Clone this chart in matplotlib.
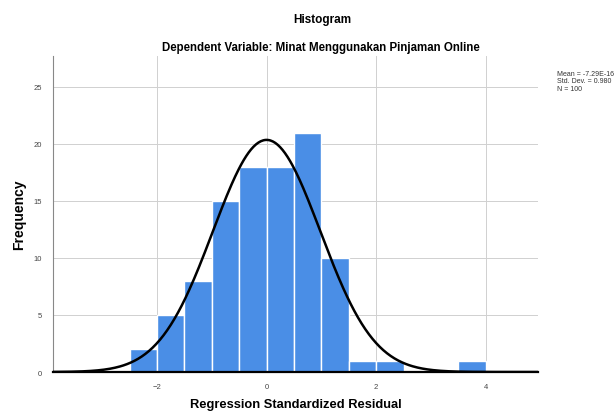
import numpy as np
import matplotlib.pyplot as plt

plt.rcParams['font.family'] = ['Liberation Sans', 'DejaVu Sans']

# histogram of standardized residuals (bin width 0.5)
bin_left = [-2.5, -2.0, -1.5, -1.0, -0.5, 0.0, 0.5, 1.0, 1.5, 2.0, 3.5]
counts = [2, 5, 8, 15, 18, 18, 21, 10, 1, 1, 1]
bin_width = 0.5
mean = 0.0
std_dev = 0.980
n = 100
x_ticks = [-2, 0, 2, 4]
y_ticks = [0, 5, 10, 15, 20, 25]

fig = plt.figure(figsize=(6.16, 4.14), dpi=100)
ax = fig.add_axes([0.086, 0.099, 0.787, 0.763])

ax.bar(bin_left, counts, width=bin_width, align='edge', color='#4a8ee6',
       edgecolor='white', linewidth=1.0, zorder=2)

xs = np.linspace(-3.9, 4.95, 400)
pdf = n * bin_width / (std_dev * np.sqrt(2 * np.pi)) * np.exp(-0.5 * ((xs - mean) / std_dev) ** 2)
ax.plot(xs, pdf, color='black', linewidth=1.8, zorder=3)

ax.set_xlim(-3.9, 4.95)
ax.set_ylim(0, 27.7)
ax.set_xticks(x_ticks)
ax.set_yticks(y_ticks)
ax.tick_params(length=0, labelsize=5.5, colors='#444444', pad=8)
ax.grid(True, color='#d0d0d0', linewidth=0.7, zorder=0)
ax.set_axisbelow(True)
for s in ['top', 'right']:
    ax.spines[s].set_visible(False)
ax.spines['left'].set_color('#888888')
ax.spines['left'].set_linewidth(0.8)
ax.spines['bottom'].set_color('black')
ax.spines['bottom'].set_linewidth(1.6)

ax.set_xlabel('Regression Standardized Residual', fontsize=9.3, fontweight='bold', labelpad=6)
ax.set_ylabel('Frequency', fontsize=10, fontweight='bold', labelpad=5)

fig.text(0.524, 0.952, 'Histogram', ha='center', va='center', fontsize=8.5, fontweight='bold')
fig.text(0.521, 0.885, 'Dependent Variable: Minat Menggunakan Pinjaman Online',
         ha='center', va='center', fontsize=8.3, fontweight='bold')
fig.text(0.904, 0.802, 'Mean = -7.29E-16\nStd. Dev. = 0.980\nN = 100',
         ha='left', va='center', fontsize=5, linespacing=1.05, color='#333333')

fig.savefig('out.png', dpi=100)
